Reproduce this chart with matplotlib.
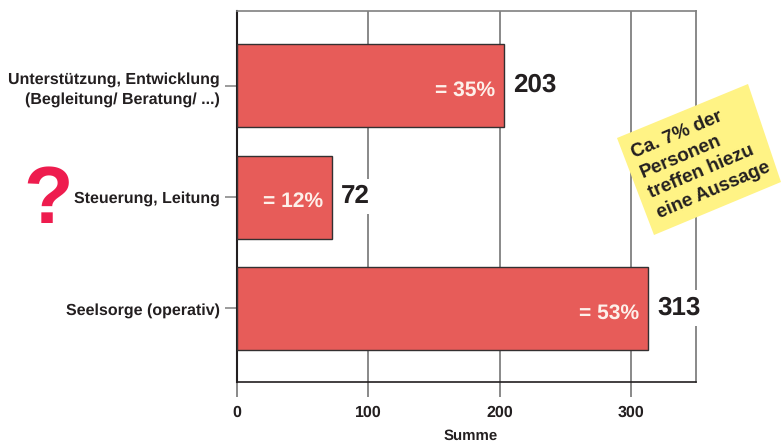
import matplotlib
matplotlib.use('Agg')
import matplotlib.pyplot as plt
from matplotlib.patches import Polygon

plt.rcParams['font.family'] = ['Liberation Sans', 'DejaVu Sans']
plt.rcParams['font.weight'] = 'bold'
plt.rcParams['axes.labelweight'] = 'bold'
plt.rcParams['text.hinting'] = 'no_hinting'
plt.rcParams['text.hinting_factor'] = 1

categories = ['Seelsorge (operativ)', 'Steuerung, Leitung',
              'Unterstützung, Entwicklung\n(Begleitung/ Beratung/ ...)']
summen = [313, 72, 203]
anteile = ['= 53%', '= 12%', '= 35%']
x_ticks = [0, 100, 200, 300]
note_lines = 'Ca. 7% der\nPersonen\ntreffen hiezu\neine Aussage'

W, H = 781, 443
text_col = '#231f20'
fig = plt.figure(figsize=(W / 100, H / 100), dpi=100)
ax = fig.add_axes([237 / W, 1 - 382 / H, (696 - 237) / W, (382 - 11) / H])

ax.barh(range(3), summen, height=0.745, color='#e75c59', edgecolor='#333031',
        linewidth=1.0, zorder=3)
ax.set_xlim(0, 349.6)
ax.set_ylim(-0.66, 2.67)

ax.set_xticks(x_ticks)
ax.set_xticklabels([str(t) for t in x_ticks], fontsize=11.5, color=text_col)
ax.set_yticks(range(3))
ax.set_yticklabels(categories, fontsize=11.65, color=text_col, linespacing=1.4)
ax.tick_params(axis='x', length=10.5, width=1.3, color='#808080', pad=6)
ax.tick_params(axis='y', length=8.5, width=1.1, color='#808080', pad=4)
ax.grid(True, axis='x', color='#808080', linewidth=1.3, zorder=1)
ax.set_axisbelow(True)
ax.set_xlabel('Summe', fontsize=10.5, color=text_col, labelpad=6.5, x=0.508)

ax.spines['left'].set_color('#231f20')
ax.spines['left'].set_linewidth(1.5)
ax.spines['bottom'].set_color('#231f20')
ax.spines['bottom'].set_linewidth(1.2)
ax.spines['top'].set_color('#808080')
ax.spines['top'].set_linewidth(1.2)
ax.spines['right'].set_color('#808080')
ax.spines['right'].set_linewidth(1.3)

# Summe next to each bar, percentage inside its end
for i, (v, a) in enumerate(zip(summen, anteile)):
    ax.text(v + 7, i + 0.005, str(v), fontsize=18.5, color=text_col, va='center', ha='left',
            zorder=4, bbox=dict(facecolor='white', edgecolor='none', pad=4))
    ax.text(v - 6.5, i - 0.04, a, fontsize=15, color='#fdf0ea', va='center', ha='right', zorder=5)

# yellow note, corners in figure pixels
corners = [(617, 138), (748, 84), (781, 182), (654, 235)]
fig.add_artist(Polygon([(x / W, 1 - y / H) for x, y in corners], closed=True,
                       transform=fig.transFigure, facecolor='#fff385', edgecolor='none', zorder=6))
fig.text(701 / W, 1 - 160 / H, note_lines, fontsize=13.5, color=text_col, rotation=23,
         rotation_mode='anchor', ha='center', va='center', multialignment='left',
         linespacing=1.3, zorder=7)

fig.text(48 / W, 1 - 202 / H, '?', fontsize=58, color='#ee1c4e', ha='center', va='center')

fig.savefig('out.png', dpi=100)
